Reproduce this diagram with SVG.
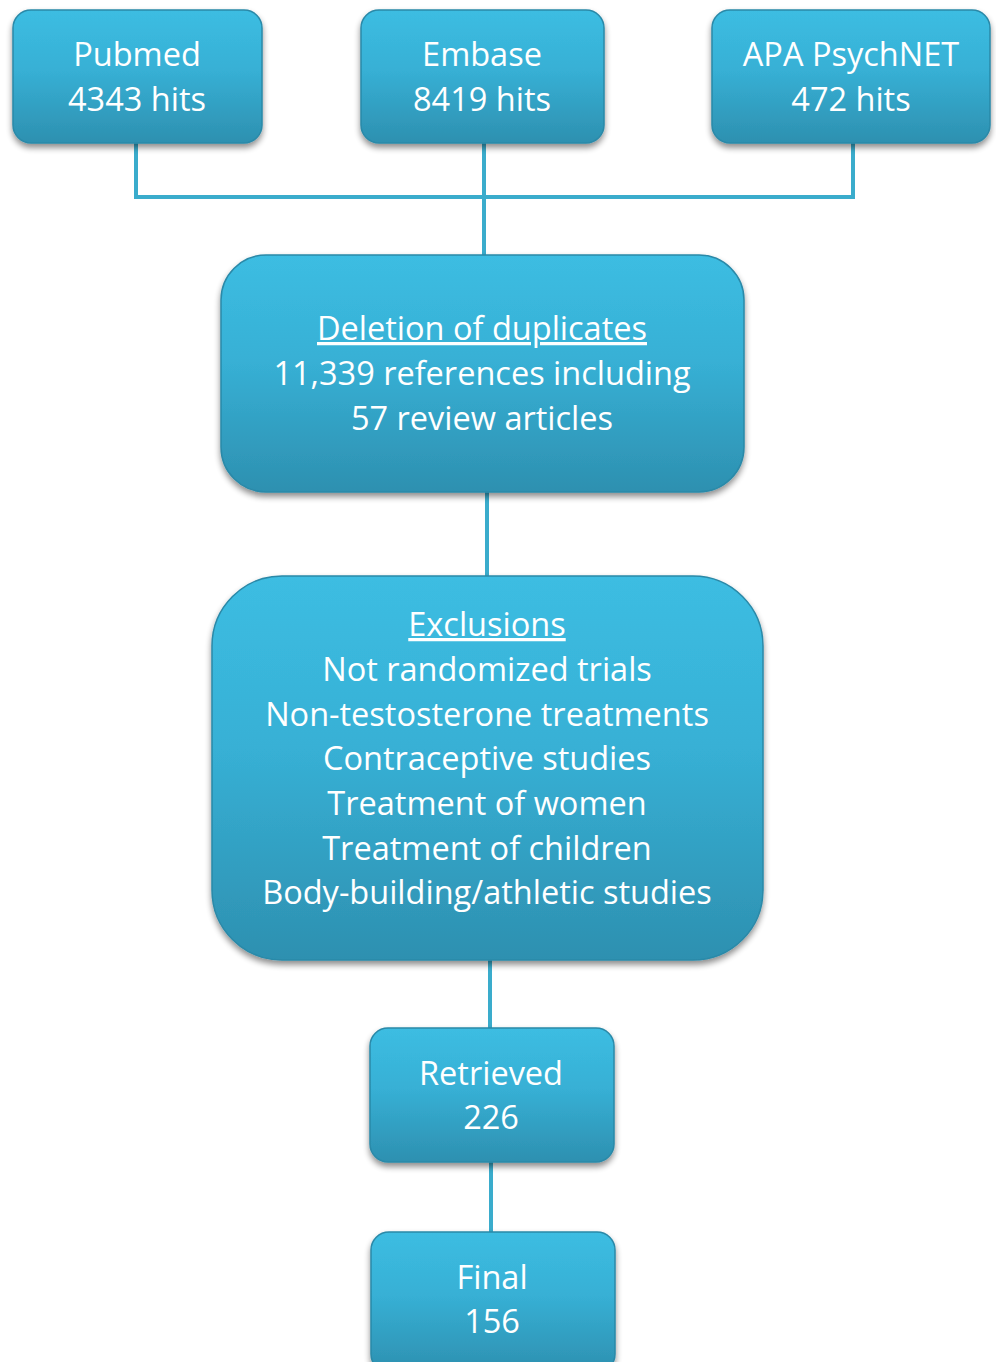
<svg xmlns="http://www.w3.org/2000/svg" width="996" height="1362" viewBox="0 0 996 1362">
<defs>
<linearGradient id="g" x1="0" y1="0" x2="0" y2="1">
<stop offset="0" stop-color="#3cbde2"/>
<stop offset="0.45" stop-color="#37b0d5"/>
<stop offset="1" stop-color="#2d90b0"/>
</linearGradient>
<filter id="sh" x="-10%" y="-10%" width="120%" height="130%">
<feGaussianBlur in="SourceAlpha" stdDeviation="3"/>
<feOffset dx="0" dy="4" result="b"/>
<feComponentTransfer><feFuncA type="linear" slope="0.45"/></feComponentTransfer>
<feMerge><feMergeNode/><feMergeNode in="SourceGraphic"/></feMerge>
</filter>
<style>
.box{fill:url(#g);stroke:#2a89a8;stroke-width:1.5;filter:url(#sh)}
.t{font-family:"Open Sans","Noto Sans",sans-serif;font-size:32.5px;fill:#ffffff;text-anchor:middle}
.u{text-decoration:underline}
.c{fill:none;stroke:#3aaccc;stroke-width:4}
</style>
</defs>
<g id="connectors">
<path class="c" d="M136 143 V197 H853 V143"/>
<path class="c" d="M484 143 V255"/>
<path class="c" d="M487 492 V576"/>
<path class="c" d="M490 960 V1028"/>
<path class="c" d="M491 1162 V1232"/>
</g>
<g id="pubmed">
<rect class="box" x="13" y="10" width="249" height="133" rx="18"/>
<text class="t" x="137" y="66">Pubmed</text>
<text class="t" x="137" y="111">4343 hits</text>
</g>
<g id="embase">
<rect class="box" x="361" y="10" width="243" height="133" rx="18"/>
<text class="t" x="482" y="66">Embase</text>
<text class="t" x="482" y="111">8419 hits</text>
</g>
<g id="apa">
<rect class="box" x="712" y="10" width="278" height="133" rx="18"/>
<text class="t" x="851" y="66">APA PsychNET</text>
<text class="t" x="851" y="111">472 hits</text>
</g>
<g id="deletion">
<rect class="box" x="221" y="255" width="523" height="237" rx="45"/>
<text class="t u" x="482" y="340">Deletion of duplicates</text>
<text class="t" x="482" y="385">11,339 references including</text>
<text class="t" x="482" y="430">57 review articles</text>
</g>
<g id="exclusions">
<rect class="box" x="212" y="576" width="551" height="384" rx="70"/>
<text class="t u" x="487" y="636">Exclusions</text>
<text class="t" x="487" y="681">Not randomized trials</text>
<text class="t" x="487" y="726">Non-testosterone treatments</text>
<text class="t" x="487" y="770">Contraceptive studies</text>
<text class="t" x="487" y="815">Treatment of women</text>
<text class="t" x="487" y="860">Treatment of children</text>
<text class="t" x="487" y="904">Body-building/athletic studies</text>
</g>
<g id="retrieved">
<rect class="box" x="370" y="1028" width="244" height="134" rx="18"/>
<text class="t" x="491" y="1085">Retrieved</text>
<text class="t" x="491" y="1129">226</text>
</g>
<g id="final">
<rect class="box" x="371" y="1232" width="244" height="140" rx="18"/>
<text class="t" x="492" y="1289">Final</text>
<text class="t" x="492" y="1333">156</text>
</g>
</svg>
